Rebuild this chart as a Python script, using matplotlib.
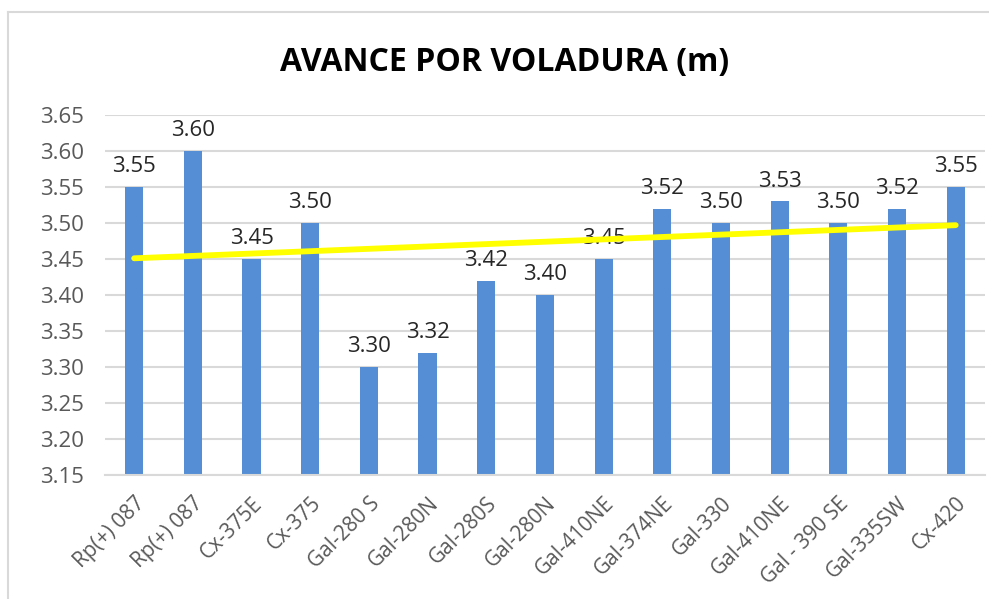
import matplotlib.pyplot as plt
import numpy as np
from matplotlib.lines import Line2D

labores = ['Rp(+) 087', 'Rp(+) 087', 'Cx-375E', 'Cx-375', 'Gal-280 S', 'Gal-280N',
           'Gal-280S', 'Gal-280N', 'Gal-410NE', 'Gal-374NE', 'Gal-330', 'Gal-410NE',
           'Gal - 390 SE', 'Gal-335SW', 'Cx-420']
avance = [3.55, 3.60, 3.45, 3.50, 3.30, 3.32, 3.42, 3.40, 3.45, 3.52, 3.50, 3.53,
          3.50, 3.52, 3.55]
yticks = [3.15, 3.20, 3.25, 3.30, 3.35, 3.40, 3.45, 3.50, 3.55, 3.60, 3.65]

plt.rcParams['font.family'] = ['Open Sans', 'DejaVu Sans']

fig = plt.figure(figsize=(9.89, 5.99), dpi=100)
ax = fig.add_axes([0.106, 0.207, 0.89, 0.601])

x = np.arange(len(labores))
ax.bar(x, avance, width=0.31, color='#558ED5', bottom=0, zorder=2)

# linear trendline
coef = np.polyfit(x, avance, 1)
ax.plot(x, np.polyval(coef, x), color='#FFFF00', linewidth=4.2,
        solid_capstyle='round', zorder=4)

for xi, v in zip(x, avance):
    ax.annotate(f'{v:.2f}', (xi, v), xytext=(0, 7), textcoords='offset points',
                ha='center', va='bottom', fontsize=16, color='#262626', zorder=3)

ax.set_xlim(-0.5, len(labores) - 0.5)
ax.set_ylim(3.15, 3.65)
ax.set_yticks(yticks)
ax.set_yticklabels([f'{t:.2f}' for t in yticks], fontsize=16, color='#595959')
ax.set_xticks(x)
ax.set_xticklabels(labores, rotation=45, ha='right', rotation_mode='anchor',
                   fontsize=15, color='#595959')
ax.tick_params(axis='y', length=0, pad=15)
ax.tick_params(axis='x', length=0, pad=13)
ax.grid(axis='y', color='#D9D9D9', linewidth=1.5, zorder=0)
for s in ['top', 'right', 'left']:
    ax.spines[s].set_visible(False)
ax.spines['bottom'].set_color('#D9D9D9')
ax.spines['bottom'].set_linewidth(1.5)

fig.text(0.51, 0.895, 'AVANCE POR VOLADURA (m)', ha='center', va='center',
         fontsize=23, fontweight='bold', color='black')

# chart frame
fig.add_artist(Line2D([0.008, 0.008], [0, 0.98], color='#D9D9D9', linewidth=1.5))
fig.add_artist(Line2D([0.008, 1], [0.98, 0.98], color='#D9D9D9', linewidth=1.5))

fig.savefig('out.png', dpi=100, facecolor='white')
